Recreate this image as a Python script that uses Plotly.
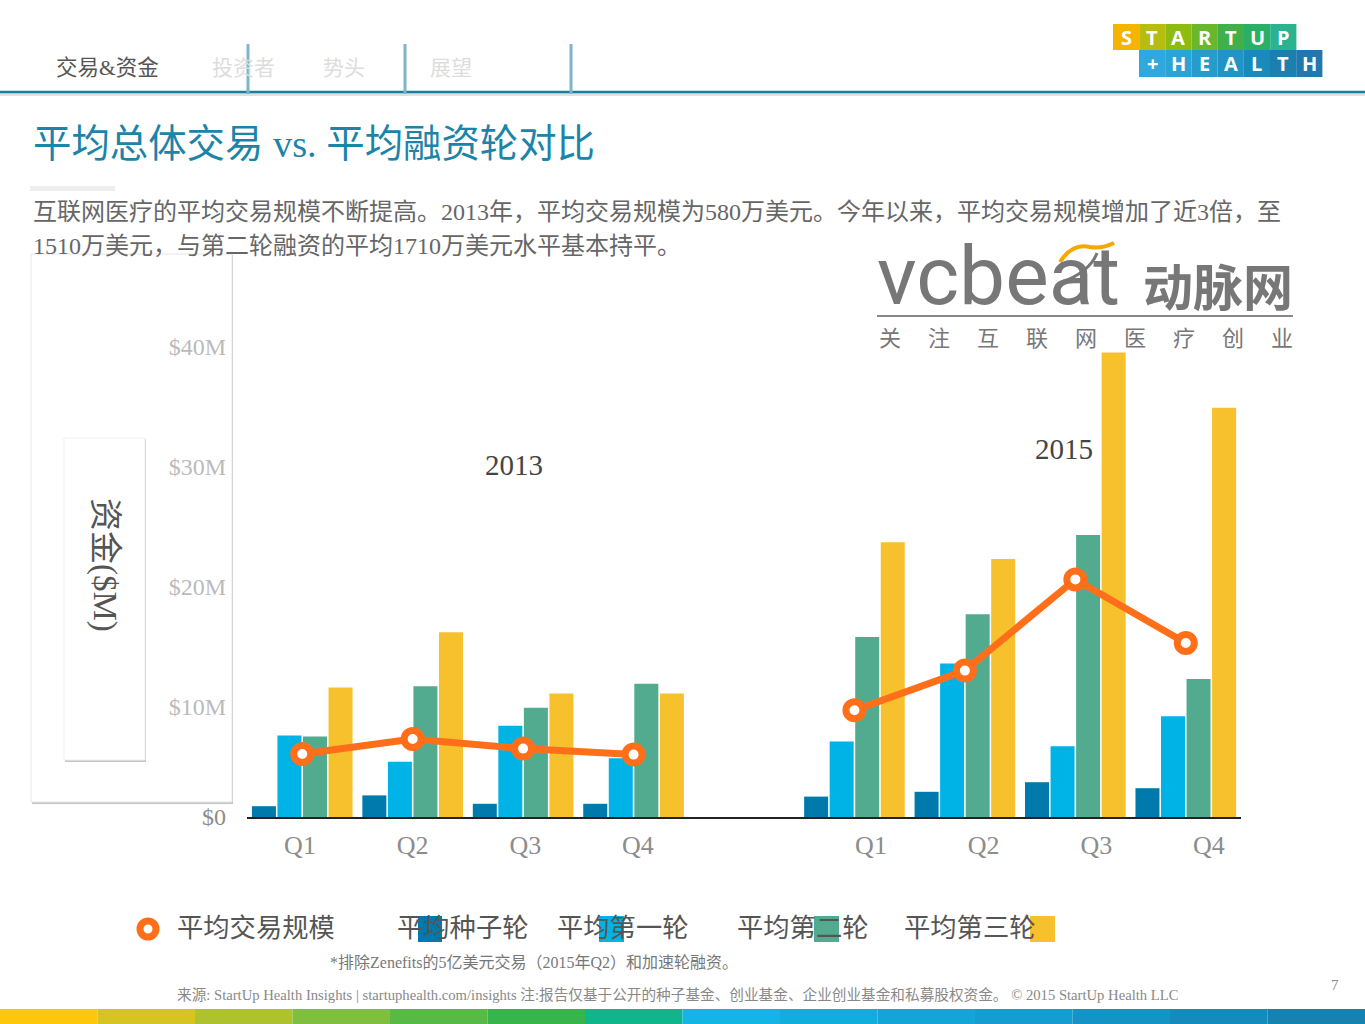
import plotly.graph_objects as go

W, H = 1365, 1024
SERIF = "Liberation Serif, Noto Sans CJK SC"
SANS = "Noto Sans CJK SC"

# Data, $M. Slot 4 is the empty gap between the two years
positions = [0, 1, 2, 3, 5, 6, 7, 8]
seed = [0.9, 1.8, 1.1, 1.1, 1.7, 2.1, 2.9, 2.4]
first = [6.8, 4.6, 7.6, 4.9, 6.3, 12.8, 5.9, 8.4]
second = [6.7, 10.9, 9.1, 11.1, 15.0, 16.9, 23.5, 11.5]
third = [10.8, 15.4, 10.3, 10.3, 22.9, 21.5, 38.7, 34.1]
avg_deal_2013 = [5.25, 6.5, 5.7, 5.2]
avg_deal_2015 = [8.9, 12.2, 19.8, 14.5]

# The labels in the original sit off the real scale, so they keep their own spots
y_tick_vals = [0, 9.17, 19.17, 29.17, 39.17]
y_tick_text = ['<span style="color:#8c8c8c">$0</span>', "$10M", "$20M", "$30M", "$40M"]
x_tick_vals = [-0.02, 1.0, 2.02, 3.04, 5.15, 6.17, 7.19, 8.21]
x_tick_text = ["Q1", "Q2", "Q3", "Q4", "Q1", "Q2", "Q3", "Q4"]

bar_series = ["平均种子轮", "平均第一轮", "平均第二轮", "平均第三轮"]
bar_colors = ["#0079AC", "#00B3E6", "#53AB8F", "#F7C12D"]
ORANGE = "#FF6F1A"

logo_top = ["S", "T", "A", "R", "T", "U", "P"]
logo_top_colors = ["#F5B400", "#B7BC10", "#8DBB10", "#6AB62C", "#3FB04A", "#2AAF66", "#2BB28F"]
logo_bottom = ["+", "H", "E", "A", "L", "T", "H"]
logo_bottom_colors = ["#2FA9DD", "#2AA3D6", "#259CCB", "#2094C4", "#1A8ABB", "#1B7FB0", "#2278AE"]
strip_colors = ["#FDC70C", "#D5C422", "#ADC22E", "#7FBE3F", "#58B947", "#37B54A", "#11B58B",
                "#12B5E5", "#10ADDD", "#12A5D5", "#149DCE", "#1494C4", "#148BBA", "#1582AF"]


def px(x):
    return x / W


def py(y):
    return 1 - y / H


shapes = []
annotations = []


def rect(x0, y0, x1, y1, fill, line=None, layer="below"):
    shapes.append(dict(type="rect", xref="paper", yref="paper", x0=px(x0), x1=px(x1), y0=py(y0), y1=py(y1),
                       fillcolor=fill, line=dict(color=line, width=1) if line else dict(width=0), layer=layer))


def seg(x0, y0, x1, y1, color, width):
    shapes.append(dict(type="line", xref="paper", yref="paper", x0=px(x0), x1=px(x1), y0=py(y0), y1=py(y1),
                       line=dict(color=color, width=width), layer="below"))


def text(x, y, s, size, color, anchor="left", family=SERIF, angle=0):
    # annotation boxes carry a little padding, take it back on left aligned text
    if anchor == "left":
        x -= 2
    annotations.append(dict(xref="paper", yref="paper", x=px(x), y=py(y), text=s, showarrow=False,
                            xanchor=anchor, yanchor="middle", textangle=angle,
                            font=dict(size=size, color=color, family=family)))


# header tabs
rect(0, 93, W, 96, "#DDE2E6")
seg(0, 92, W, 92, "#1A7F96", 2.5)
for x in [248, 405, 571]:
    seg(x, 44, x, 94, "#7FB5CB", 3)
text(56, 68, "交易&amp;资金", 21.5, "#555555")
text(212, 68, "投资者", 21, "#DDDDDD")
text(323, 68, "势头", 21, "#DDDDDD")
text(430, 68, "展望", 21, "#DDDDDD")

# StartUp Health logo
for i, (ch, col) in enumerate(zip(logo_top, logo_top_colors)):
    rect(1113 + i * 26.2, 24, 1139.2 + i * 26.2, 50, col)
    text(1126 + i * 26.2, 37, "<b>" + ch + "</b>", 20, "#FFFFFF", "center", "Open Sans")
for i, (ch, col) in enumerate(zip(logo_bottom, logo_bottom_colors)):
    rect(1139 + i * 26.2, 50, 1165.2 + i * 26.2, 77, col)
    text(1152 + i * 26.2, 63.5, "<b>" + ch + "</b>", 20, "#FFFFFF", "center", "Open Sans")

# title and intro
text(33, 144, "平均总体交易 vs. 平均融资轮对比", 38.4, "#1C84A8")
rect(30, 186, 115, 191, "#EEEEEE")
text(33, 212, "互联网医疗的平均交易规模不断提高。2013年，平均交易规模为580万美元。今年以来，平均交易规模增加了近3倍，至", 24, "#666666")
text(33, 246, "1510万美元，与第二轮融资的平均1710万美元水平基本持平。", 24, "#666666")

# vcbeat logo
text(877, 276, "vcbeat", 82, "#777777", family="Roboto")
text(1218, 284, "<b>动脉网</b>", 50, "#777777", "center", SANS)
seg(877, 316, 1293, 316, "#888888", 2)
for i, ch in enumerate("关注互联网医疗创业"):
    text(890 + i * 49, 338, ch, 22, "#777777", "center", SERIF)
shapes.append(dict(type="path", xref="paper", yref="paper", layer="above",
                   path=f"M {px(1060)} {py(262)} Q {px(1072)} {py(243)} {px(1090)} {py(247)} Q {px(1102)} {py(249)} {px(1114)} {py(243)}",
                   line=dict(color="#F7A800", width=4)))
shapes.append(dict(type="path", xref="paper", yref="paper", layer="above",
                   path=f"M {px(1060)} {py(283)} Q {px(1090)} {py(272)} {px(1097)} {py(253)}",
                   line=dict(color="#777777", width=3)))

# panels behind the axis labels
rect(32, 255, 233, 804, "#C4C4C4")
rect(31, 254, 232, 802, "#FFFFFF", "#E6E6E6")
rect(65, 439, 146, 762, "#C4C4C4")
rect(64, 438, 145, 760, "#FFFFFF", "#EFEFEF")
text(105, 565, "资金($M)", 33, "#555555", "center", angle=90)

text(514, 465, "2013", 29, "#444444", "center")
text(1064, 449, "2015", 29, "#444444", "center")

# hand placed legend, swatches overlap the labels like in the original
shapes.append(dict(type="circle", xref="paper", yref="paper", x0=px(140), x1=px(156), y0=py(921), y1=py(937),
                   fillcolor="#FFFFFF", line=dict(color=ORANGE, width=7), layer="below"))
for col, (x0, x1) in zip(bar_colors, [(418, 442), (599, 624), (814, 839), (1030, 1055)]):
    rect(x0, 916, x1, 942, col)
text(177, 928, "平均交易规模", 26.3, "#555555")
for name, x in zip(bar_series, [397, 557, 737, 904]):
    text(x, 928, name, 26.3, "#555555")

text(330, 962, "*排除Zenefits的5亿美元交易（2015年Q2）和加速轮融资。", 16, "#777777")
text(177, 994, "来源: StartUp Health Insights | startuphealth.com/insights 注:报告仅基于公开的种子基金、创业基金、企业创业基金和私募股权资金。 © 2015 StartUp Health LLC", 14.65, "#888888")
text(1335, 985, "7", 15, "#888888", "center")

# colour strip along the bottom
for i, col in enumerate(strip_colors):
    rect(i * W / 14, 1009, (i + 1) * W / 14, 1024, col)

fig = go.Figure()
for name, vals, col in zip(bar_series, [seed, first, second, third], bar_colors):
    fig.add_trace(go.Bar(x=positions, y=vals, name=name, marker_color=col, marker_line_width=0))
for xs, ys in [(positions[:4], avg_deal_2013), (positions[4:], avg_deal_2015)]:
    fig.add_trace(go.Scatter(x=xs, y=ys, name="平均交易规模", mode="lines+markers",
                             line=dict(color=ORANGE, width=7),
                             marker=dict(size=17, color="#FFFFFF", line=dict(color=ORANGE, width=7))))

fig.update_layout(
    width=W, height=H, margin=dict(l=0, r=0, t=0, b=0, autoexpand=False), autosize=False,
    paper_bgcolor="#FFFFFF", plot_bgcolor="rgba(0,0,0,0)",
    barmode="group", bargap=0.075, bargroupgap=0.06, showlegend=False,
    shapes=shapes, annotations=annotations,
    xaxis=dict(domain=[px(247), px(1241)], range=[-0.5, 8.5], tickmode="array",
               tickvals=x_tick_vals, ticktext=x_tick_text, showgrid=False, zeroline=False,
               showline=True, linecolor="#222222", linewidth=1.5, ticks="", automargin=False,
               ticklabelstandoff=4, tickfont=dict(family=SERIF, size=26, color="#8C8C8C")),
    yaxis=dict(domain=[py(817), py(337)], range=[0, 40], tickmode="array",
               tickvals=y_tick_vals, ticktext=y_tick_text, showgrid=False, zeroline=False,
               showline=False, ticks="", ticklabelstandoff=20, automargin=False,
               tickfont=dict(family=SERIF, size=24, color="#BBBBBB")),
)

fig.write_html("out.html", config={"displayModeBar": False},
               post_script="document.body.style.margin='0';")
